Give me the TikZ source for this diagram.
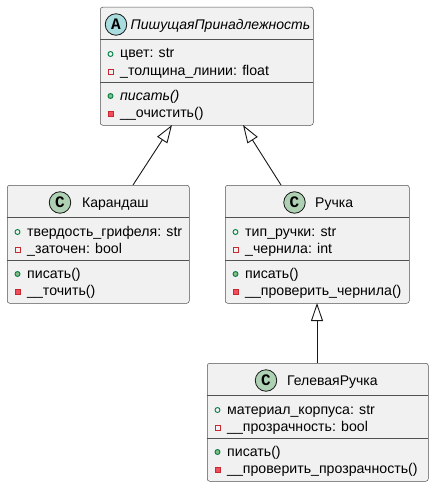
\documentclass[tikz,border=0pt]{standalone}
\usepackage{fontspec}
\setmainfont{Liberation Sans}
\newfontfamily\badgefont{Liberation Mono}
\usetikzlibrary{arrows.meta}
\definecolor{boxfill}{HTML}{F1F1F1}
\definecolor{boxline}{HTML}{181818}
\definecolor{cfill}{HTML}{ADD1B2}
\definecolor{afill}{HTML}{A9DCDF}
\definecolor{publine}{HTML}{038048}
\definecolor{pubfill}{HTML}{84BE84}
\definecolor{privline}{HTML}{C82930}
\definecolor{privfill}{HTML}{F24D5C}
\tikzset{
  classbox/.style={draw=boxline!75, fill=boxfill, line width=0.5pt, rounded corners=2.5pt, inner sep=0pt, anchor=north west, minimum height=118pt},
  sepline/.style={draw=boxline!75, line width=0.5pt},
  cname/.style={font=\fontsize{14}{16}\selectfont, anchor=base west, inner sep=0pt},
  member/.style={font=\fontsize{14.15}{16}\selectfont, anchor=base west, inner sep=0pt},
  badge/.style={circle, draw=boxline, line width=0.8pt, minimum size=21.5pt, inner sep=0pt, font=\badgefont\bfseries\fontsize{16}{16}\selectfont},
  pubattr/.style={circle, draw=publine, line width=0.9pt, minimum size=5pt, inner sep=0pt},
  privattr/.style={rectangle, draw=privline, line width=0.9pt, minimum size=5pt, inner sep=0pt},
  pubmeth/.style={circle, draw=publine, fill=pubfill, line width=0.9pt, minimum size=5pt, inner sep=0pt},
  privmeth/.style={rectangle, draw=privline, fill=privfill, line width=0.9pt, minimum size=5pt, inner sep=0pt},
  inherit/.style={draw=boxline, line width=0.9pt, -{Triangle[open, length=18pt, width=12pt]}}
}
% #1 id, #2 left, #3 right, #4 top, #5 attr1, #6 attr2, #7 meth1, #8 meth2
\newcommand\umlbody[8]{%
  \node[classbox, minimum width={(#3-#2)*1pt}] (#1) at (#2,#4) {};
  \draw[sepline] (#2,{#4+32}) -- (#3,{#4+32});
  \draw[sepline] (#2,{#4+75}) -- (#3,{#4+75});
  \node[pubattr]  (#1-ia1) at ({#2+10.5},{#4+47}) {};
  \node[member]   (#1-a1)  at ({#2+20},{#4+51}) {#5};
  \node[privattr] (#1-ia2) at ({#2+10.5},{#4+64.5}) {};
  \node[member]   (#1-a2)  at ({#2+20},{#4+68.5}) {#6};
  \node[pubmeth]  (#1-im1) at ({#2+10.5},{#4+89}) {};
  \node[member]   (#1-m1)  at ({#2+20},{#4+93}) {#7};
  \node[privmeth] (#1-im2) at ({#2+10.5},{#4+106.5}) {};
  \node[member]   (#1-m2)  at ({#2+20},{#4+110.5}) {#8};
}
\begin{document}
\begin{tikzpicture}[x=1pt,y=-1pt]
\useasboundingbox[fill=white] (0,0) rectangle (433,487);

% abstract class
\umlbody{abs}{100}{313}{7}{цвет: str}{\_толщина\_линии: float}{\textit{писать()}}{\_\_очистить()}
\node[badge, fill=afill] (abs-badge) at (116,24.5) {A};
\node[cname] (abs-name) at (130.5,29.2) {\textit{ПишущаяПринадлежность}};

% Карандаш
\umlbody{kar}{7}{189}{185}{твердость\_грифеля: str}{\_заточен: bool}{писать()}{\_\_точить()}
\node[badge, fill=cfill] (kar-badge) at (60,202.5) {C};
\node[cname] (kar-name) at (82,207.2) {Карандаш};

% Ручка
\umlbody{ruc}{225}{409}{185}{тип\_ручки: str}{\_чернила: int}{писать()}{\_\_проверить\_чернила()}
\node[badge, fill=cfill] (ruc-badge) at (294.5,202.5) {C};
\node[cname] (ruc-name) at (315,207.2) {Ручка};

% ГелеваяРучка
\umlbody{gel}{207}{428}{363}{материал\_корпуса: str}{\_\_прозрачность: bool}{писать()}{\_\_проверить\_прозрачность()}
\node[badge, fill=cfill] (gel-badge) at (266,380.5) {C};
\node[cname] (gel-name) at (287,385.2) {ГелеваяРучка};

% connectors
\coordinate (kar-up) at (133,185);
\coordinate (abs-dl) at (172,125);
\coordinate (ruc-up) at (281,185);
\coordinate (abs-dr) at (243,125);
\coordinate (gel-up) at (317,363);
\coordinate (ruc-dn) at (317,303);
\draw[inherit] (kar-up) -- (abs-dl);
\draw[inherit] (ruc-up) -- (abs-dr);
\draw[inherit] (gel-up) -- (ruc-dn);
\end{tikzpicture}
\end{document}
